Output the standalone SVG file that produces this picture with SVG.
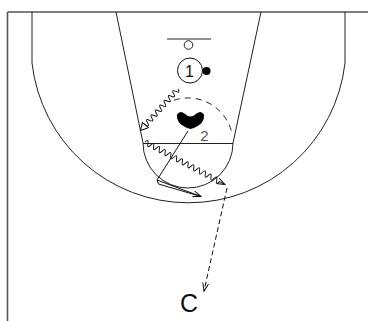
<svg xmlns="http://www.w3.org/2000/svg" width="368" height="321" viewBox="0 0 368 321">
  <defs>
    <style>
      .ln{fill:none;stroke:#111;stroke-width:1}
      .court{fill:none;stroke:#222;stroke-width:1}
      .edge{fill:none;stroke:#555;stroke-width:1.6}
      .lbl{font-family:"Liberation Sans",Arial,sans-serif;fill:#111}
    </style>
    <marker id="vArrow" markerUnits="userSpaceOnUse" markerWidth="10" markerHeight="8" refX="8" refY="3" orient="auto">
      <path d="M0,0 L8,3 L0,6" fill="none" stroke="#111" stroke-width="1"/>
    </marker>
    <marker id="triArrow" markerUnits="userSpaceOnUse" markerWidth="10" markerHeight="10" refX="8" refY="4.5" orient="auto">
      <path d="M0.5,0.5 L8,4.5 L0.5,8.5 Z" fill="#fff" stroke="#111" stroke-width="1"/>
    </marker>
  </defs>
  <rect width="368" height="321" fill="#fff"/>

  <g id="court">
    <line class="edge" x1="7.5" y1="12" x2="368" y2="12"/>
    <line class="edge" x1="7.5" y1="12" x2="7.5" y2="321"/>
    <path class="court" d="M32,12 L32,63 A157.5,157.5 0 0 0 345,63 L345,12"/>
    <line class="court" x1="116" y1="12" x2="143" y2="143"/>
    <line class="court" x1="261" y1="12" x2="233" y2="143"/>
    <line class="court" x1="143" y1="143.5" x2="233" y2="143.5"/>
    <path class="court" d="M143,143 A45,45 0 0 0 233,143"/>
    <path class="court" d="M174,100.2 A45,45 0 0 1 232,133.6" stroke-dasharray="6,5"/>
    <line class="court" x1="167" y1="39" x2="211" y2="39" stroke-width="1.3"/>
    <circle class="court" cx="188.5" cy="45" r="4.3"/>
  </g>

  <g id="player1">
    <circle cx="190" cy="70.5" r="12.5" fill="#fff" stroke="#111" stroke-width="1"/>
    <text class="lbl" x="189.5" y="76.5" font-size="16" text-anchor="middle">1</text>
    <circle cx="206.5" cy="71" r="4" fill="#000"/>
  </g>

  <g id="defender2">
    <path d="M177,114.5 Q180,110 184.5,113.5 Q187.5,116.5 190.5,116.5 Q193.5,116.5 196.5,113.5 Q201,110 204,114.5 Q205,125 190.5,129 Q176,125 177,114.5 Z" fill="#000"/>
    <text x="204.5" y="141" font-size="15" text-anchor="middle" font-family="Liberation Sans, Arial, sans-serif" fill="#555">2</text>
  </g>

  <g id="coach">
    <text class="lbl" x="189" y="312" font-size="25" text-anchor="middle">C</text>
  </g>

  <g id="connectors">
    <path class="ln" transform="translate(178,89) rotate(132.1)" marker-end="url(#triArrow)"
      d="M0,0 c1,-3.5 2.25,-3.5 3.25,0 s2.25,3.5 3.25,0 s2.25,-3.5 3.25,0 s2.25,3.5 3.25,0 s2.25,-3.5 3.25,0 s2.25,3.5 3.25,0 s2.25,-3.5 3.25,0 s2.25,3.5 3.25,0 s2.25,-3.5 3.25,0 s2.25,3.5 3.25,0 s2.25,-3.5 3.25,0 s2.25,3.5 3.25,0 s2.25,-3.5 3.25,0 s2.25,3.5 3.25,0 s2.25,-3.5 3.25,0 s2.25,3.5 3.25,0 l4,0"/>
    <path class="ln" transform="translate(145,142) rotate(28)" marker-end="url(#vArrow)"
      d="M0,0 c1,-3.5 2.25,-3.5 3.25,0 s2.25,3.5 3.25,0 s2.25,-3.5 3.25,0 s2.25,3.5 3.25,0 s2.25,-3.5 3.25,0 s2.25,3.5 3.25,0 s2.25,-3.5 3.25,0 s2.25,3.5 3.25,0 s2.25,-3.5 3.25,0 s2.25,3.5 3.25,0 s2.25,-3.5 3.25,0 s2.25,3.5 3.25,0 s2.25,-3.5 3.25,0 s2.25,3.5 3.25,0 s2.25,-3.5 3.25,0 s2.25,3.5 3.25,0 s2.25,-3.5 3.25,0 s2.25,3.5 3.25,0 s2.25,-3.5 3.25,0 s2.25,3.5 3.25,0 s2.25,-3.5 3.25,0 s2.25,3.5 3.25,0 s2.25,-3.5 3.25,0 s2.25,3.5 3.25,0 s2.25,-3.5 3.25,0 s2.25,3.5 3.25,0 l6,0"/>
    <line class="ln" x1="188" y1="131" x2="157" y2="180"/>
    <path class="ln" d="M157,180 L158.5,184 L201,196.5"/>
    <path class="ln" d="M157,180 L201,196.5" marker-end="url(#vArrow)"/>
    <line class="ln" x1="227" y1="188" x2="204" y2="291" stroke-dasharray="5,3" marker-end="url(#vArrow)"/>
  </g>
</svg>
